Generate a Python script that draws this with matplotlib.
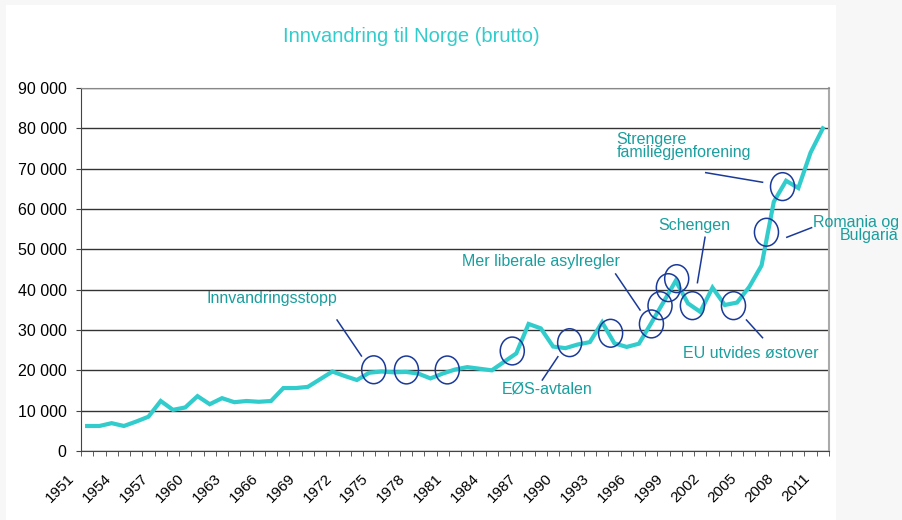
import matplotlib
matplotlib.use('Agg')
import matplotlib.pyplot as plt
import matplotlib.transforms as mtransforms
from matplotlib.patches import Ellipse, Rectangle
from matplotlib.ticker import FuncFormatter

plt.rcParams['font.family'] = ['Liberation Sans', 'DejaVu Sans']

years = list(range(1951, 2012))
immigrants = [
    6200, 6200, 6900, 6200, 7300, 8500, 12400, 10200, 10800, 13600,
    11600, 13100, 12100, 12400, 12200, 12400, 15600, 15600, 15900, 17800,
    19700, 18600, 17600, 19400, 19700, 19500, 19600, 19200, 18000, 19200,
    20200, 20800, 20400, 20000, 22100, 24200, 31500, 30400, 25900, 25500,
    26400, 27000, 31900, 26700, 25800, 26600, 31700, 36900, 42200, 36600,
    34500, 40500, 36200, 36800, 40700, 46000, 61800, 67000, 65200, 74000,
    80000,
]
label_years = list(range(1951, 2012, 3))

# highlighted events (circles)
circle_years = [1974.37, 1977.04, 1980.37, 1985.67, 1990.35, 1993.69, 1997.02,
                1997.72, 1998.40, 1999.08, 2000.36, 2003.71, 2006.40, 2007.71]
circle_values = [20140, 20090, 20090, 24800, 26860, 29190, 31500,
                 36030, 40500, 42730, 36030, 36030, 54240, 65550]

# annotation texts: (text, x, y, ha)
notes = [
    ("Innvandringsstopp", 1960.77, 37690, 'left'),
    ("Mer liberale asylregler", 1981.59, 46940, 'left'),
    ("EØS-avtalen", 1984.85, 15300, 'left'),
    ("Strengere\nfamiliegjenforening", 1994.18, 75700, 'left'),
    ("Schengen", 1997.56, 55790, 'left'),
    ("Romania og\nBulgaria", 2017.18, 55100, 'right'),
    ("EU utvides østover", 1999.6, 24050, 'left'),
]
# leader lines: (x0, y0, x1, y1)
leaders = [
    (1971.38, 32480, 1973.37, 23560),
    (1994.10, 43890, 1996.09, 34960),
    (1988.12, 17600, 1989.39, 23380),
    (2001.45, 69010, 2006.08, 66630),
    (2001.39, 52990, 2000.77, 41730),
    (2010.08, 55370, 2008.06, 52990),
    (2004.77, 32480, 2006.08, 28090),
]

line_color = '#33cccc'
note_color = '#1a9e9e'
circle_color = '#1a3a9a'

fig = plt.figure(figsize=(9.02, 5.2), dpi=100)
fig.patch.set_facecolor('#f7f7f7')
fig.patches.append(Rectangle((6 / 902, 0), 830 / 902, 515 / 520,
                             transform=fig.transFigure, facecolor='white',
                             edgecolor='none', zorder=-10))

ax = fig.add_axes([81 / 902, 1 - 451 / 520, 748 / 902, 363 / 520])
ax.set_facecolor('white')

ax.plot(years, immigrants, color=line_color, lw=3, solid_joinstyle='miter', zorder=3)

for cx, cy in zip(circle_years, circle_values):
    ax.add_patch(Ellipse((cx, cy), 1.96, 6900, fill=False,
                         edgecolor=circle_color, lw=1.1, zorder=4))

for x0, y0, x1, y1 in leaders:
    ax.plot([x0, x1], [y0, y1], color=circle_color, lw=1.1, zorder=4)

for txt, tx, ty, ha in notes:
    ax.text(tx, ty, txt, color=note_color, fontsize=11.5, ha=ha, va='center',
            linespacing=0.85, multialignment=ha, clip_on=False, zorder=5)

ax.set_xlim(1950.5, 2011.5)
ax.set_ylim(0, 90000)
ax.set_yticks(range(0, 90001, 10000))
ax.yaxis.set_major_formatter(FuncFormatter(lambda v, p: f"{int(v):,}".replace(',', ' ')))
ax.grid(axis='y', color='#333333', lw=1)
ax.set_axisbelow(True)

ax.set_xticks(label_years)
ax.set_xticklabels([str(y) for y in label_years], rotation=45, ha='right',
                   va='center', rotation_mode='anchor', fontsize=11)
ax.set_xticks([1950.5 + k for k in range(62)], minor=True)
ax.tick_params(axis='x', which='major', length=0, pad=18)
ax.tick_params(axis='x', which='minor', length=3.6, direction='out', color='#444444')
ax.tick_params(axis='y', length=3.6, direction='out', pad=6.7, labelsize=11.5, color='#444444')

offset = mtransforms.ScaledTranslation(-15 / 100, 0, fig.dpi_scale_trans)
for lab in ax.get_xticklabels():
    lab.set_transform(lab.get_transform() + offset)

for side in ['left', 'bottom']:
    ax.spines[side].set_color('#444444')
ax.spines['top'].set_color('#888888')
ax.spines['right'].set_color('#aaaaaa')
ax.spines['right'].set_linewidth(1.5)

fig.text(411 / 902, 1 - 37 / 520, "Innvandring til Norge (brutto)",
         color=line_color, fontsize=14.5, ha='center', va='center')

fig.savefig('out.png', dpi=100, facecolor=fig.get_facecolor())
